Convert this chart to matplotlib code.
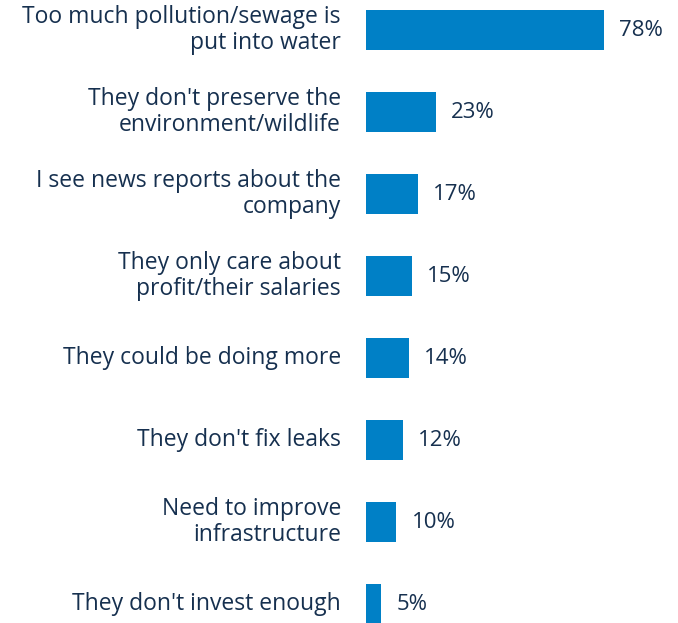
import matplotlib
matplotlib.use("Agg")
import matplotlib.pyplot as plt

reasons = [
    "Too much pollution/sewage is\nput into water",
    "They don't preserve the\nenvironment/wildlife",
    "I see news reports about the\ncompany",
    "They only care about\nprofit/their salaries",
    "They could be doing more",
    "They don't fix leaks",
    "Need to improve\ninfrastructure",
    "They don't invest enough",
]
shares = [78, 23, 17, 15, 14, 12, 10, 5]

bar_color = "#0080C6"
text_color = "#16304F"
font = "Open Sans"

fig = plt.figure(figsize=(6.78, 6.23), dpi=100)
ax = fig.add_axes([366 / 678, 0, 1 - 366 / 678, 1])

ypos = list(range(len(reasons)))
ax.barh(ypos, shares, height=0.49, color=bar_color)
ax.set_xlim(0, 102.3)
ax.set_ylim(7.23, -0.366)
ax.axis("off")

for y, label, v in zip(ypos, reasons, shares):
    ax.annotate(label, xy=(0, y), xytext=(-25, 0), textcoords="offset pixels",
                ha="right", va="center", fontsize=16.5, color=text_color,
                family=font, linespacing=1.12, annotation_clip=False)
    ax.annotate(f"{v}%", xy=(v, y), xytext=(15, 0), textcoords="offset pixels",
                ha="left", va="center", fontsize=16, color=text_color,
                family=font, annotation_clip=False)

fig.savefig("out.png", dpi=100)
